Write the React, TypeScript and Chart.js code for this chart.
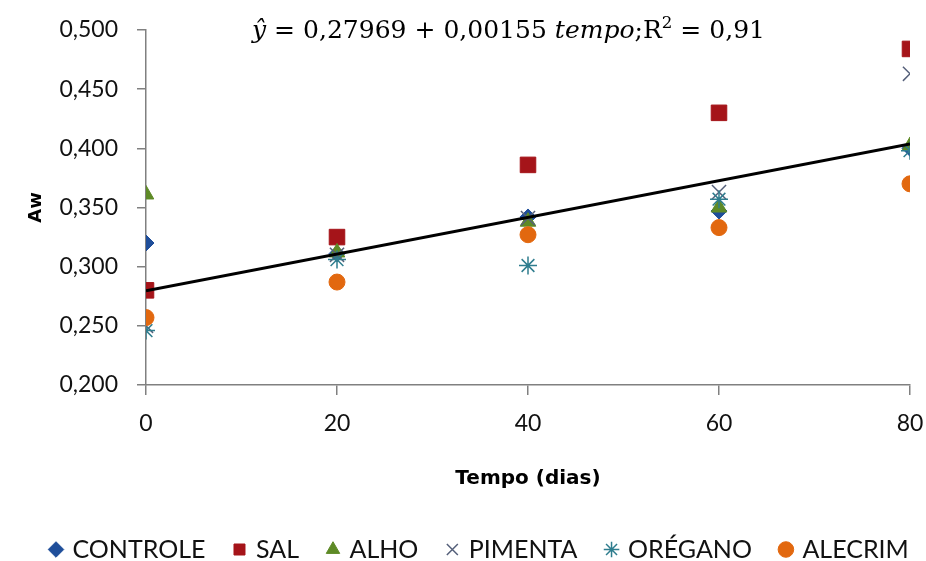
import React, { useEffect, useRef } from "react";
import { Chart, registerables } from "chart.js";

Chart.register(...registerables);

const tempos = [0, 20, 40, 60, 80];
const controle = [0.320, 0.311, 0.342, 0.347, 0.400];
const sal = [0.280, 0.325, 0.386, 0.430, 0.484];
const alho = [0.361, 0.312, 0.338, 0.350, 0.402];
const pimenta = [0.250, 0.310, 0.341, 0.363, 0.463];
const oregano = [0.246, 0.306, 0.301, 0.357, 0.398];
const alecrim = [0.257, 0.287, 0.327, 0.333, 0.370];

const intercept = 0.27969;
const slope = 0.00155;
const yTicks = [0.2, 0.25, 0.3, 0.35, 0.4, 0.45, 0.5];

const toPts = (arr: number[]) => arr.map((y, i) => ({ x: tempos[i], y }));

const FONT = "Lato, 'Open Sans', sans-serif";

const equationPlugin = {
  id: "equation",
  afterDraw(chart: any) {
    const ctx = chart.ctx;
    ctx.save();
    const size = 24;
    const parts = [
      { t: "\u0177", f: `italic ${size}px 'DejaVu Serif', serif` },
      { t: " = 0,27969 + 0,00155 ", f: `${size}px 'DejaVu Serif', serif` },
      { t: "tempo", f: `italic ${size}px 'DejaVu Serif', serif` },
      { t: ";R", f: `${size}px 'DejaVu Serif', serif` },
      { t: "2", f: `${Math.round(size * 0.65)}px 'DejaVu Serif', serif`, sup: true },
      { t: " = 0,91", f: `${size}px 'DejaVu Serif', serif` },
    ];
    let total = 0;
    const widths = parts.map((p) => {
      ctx.font = p.f;
      const w = ctx.measureText(p.t).width;
      total += w;
      return w;
    });
    const targetW = 513;
    const scale = targetW / total;
    let x = 252;
    const baseY = 38;
    ctx.fillStyle = "#000";
    ctx.textBaseline = "alphabetic";
    ctx.textAlign = "left";
    parts.forEach((p, i) => {
      ctx.save();
      ctx.translate(x, p.sup ? baseY - 10 : baseY);
      ctx.scale(scale, 1);
      ctx.font = p.f;
      ctx.fillText(p.t, 0, 0);
      ctx.restore();
      x += widths[i] * scale;
    });
    ctx.restore();
  },
};

export default function App() {
  const ref = useRef<HTMLCanvasElement>(null);
  useEffect(() => {
    const mk = (label: string, data: number[], color: string, style: string, radius: number, order: number) => ({
      type: "scatter" as const,
      label,
      data: toPts(data),
      backgroundColor: color,
      borderColor: color,
      borderWidth: style === "crossRot" || style === "star" ? 1.5 : 1,
      pointStyle: style,
      pointRadius: radius,
      pointHoverRadius: radius,
      order,
    });
    const chart = new Chart(ref.current!, {
      type: "scatter",
      data: {
        datasets: [
          {
            type: "line",
            label: "reg",
            data: [
              { x: tempos[0], y: intercept + slope * tempos[0] },
              { x: tempos[tempos.length - 1], y: intercept + slope * tempos[tempos.length - 1] },
            ],
            borderColor: "#000",
            borderWidth: 3,
            pointRadius: 0,
            fill: false,
            order: 0,
          } as any,
          mk("CONTROLE", controle, "#1f4e9a", "rectRot", 8, 6),
          mk("SAL", sal, "#a51419", "rect", 11, 5),
          mk("ALHO", alho, "#5e8a26", "triangle", 9, 4),
          mk("PIMENTA", pimenta, "#55607a", "crossRot", 10, 3),
          mk("ORÉGANO", oregano, "#2f7d8e", "star", 9, 2),
          mk("ALECRIM", alecrim, "#e2680f", "circle", 8, 1),
        ],
      },
      options: {
        animation: false,
        responsive: false,
        maintainAspectRatio: false,
        layout: { padding: { top: 0, right: -20, left: 22, bottom: -11 } },
        plugins: {
          tooltip: { enabled: false },
          legend: {
            position: "bottom",
            align: "start",
            labels: {
              usePointStyle: true,
              boxWidth: 8,
              boxHeight: 11,
              font: { family: FONT, size: 25 },
              color: "#111",
              padding: 30,
              filter: (item: any) => item.text !== "reg",
              sort: (a: any, b: any) => a.datasetIndex - b.datasetIndex,
            },
          },
        },
        scales: {
          x: {
            type: "linear",
            min: 0,
            max: 80,
            afterFit: (s: any) => { s.height = 122; s.paddingRight = 16; },
            ticks: { stepSize: 20, font: { family: FONT, size: 23 }, color: "#111", padding: 15 },
            grid: { drawOnChartArea: false, tickLength: 10, color: "#808080", lineWidth: 1.5 },
            border: { color: "#808080", width: 1.5 },
            title: { display: true, text: "Tempo (dias)", font: { family: "'DejaVu Sans', sans-serif", size: 20, weight: "bold" }, color: "#000", padding: { top: 0, bottom: 16 } },
          },
          y: {
            type: "linear",
            min: 0.2,
            max: 0.5,
            afterFit: (s: any) => { s.width = 124; s.paddingTop = 30; s.paddingBottom = 0; },
            afterBuildTicks: (s: any) => { s.ticks = yTicks.map((v) => ({ value: v })); },
            ticks: {
              font: { family: FONT, size: 23 },
              color: "#111",
              padding: 19,
              callback: (v: any) => Number(v).toFixed(3).replace(".", ","),
            },
            grid: { drawOnChartArea: false, tickLength: 9, color: "#808080", lineWidth: 1.5 },
            border: { color: "#808080", width: 1.5 },
            title: { display: true, text: "Aw", font: { family: "'DejaVu Sans', sans-serif", size: 18, weight: "bold" }, color: "#000", padding: { top: 4, bottom: 0 } },
          },
        },
      } as any,
      plugins: [equationPlugin],
    });
    return () => chart.destroy();
  }, []);
  return (
    <div style={{ position: "fixed", left: 0, top: 0, width: 926, height: 561, background: "#fff" }}>
      <canvas ref={ref} width={926} height={561} style={{ width: 926, height: 561 }} />
    </div>
  );
}
